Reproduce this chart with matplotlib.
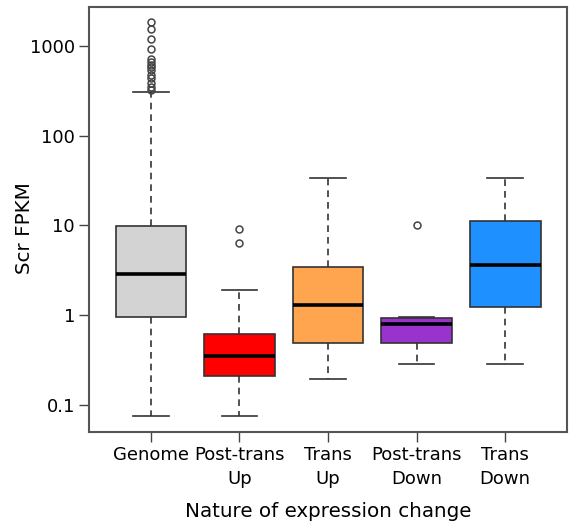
import numpy as np
import matplotlib
matplotlib.use("Agg")
from matplotlib import pyplot as plt

# groups and colours
labels = ["Genome", "Post-trans\nUp", "Trans\nUp", "Post-trans\nDown", "Trans\nDown"]
colors = ["#d3d3d3", "#ff0000", "#ffa54f", "#9a32cd", "#1e90ff"]

# box statistics (FPKM)
whislo = [0.0746, 0.0746, 0.195, 0.286, 0.286]
q1 = [0.95, 0.21, 0.491, 0.491, 1.23]
med = [2.87, 0.346, 1.29, 0.787, 3.64]
q3 = [9.85, 0.609, 3.43, 0.918, 11.3]
whishi = [311, 1.90, 34.1, 0.95, 34.1]
fliers = [
    [1862, 1545, 1203, 932, 720, 671, 617, 580, 542, 480, 436, 385, 348, 325],
    [9.04, 6.41],
    [],
    [10.0],
    [],
]

stats = []
for i in range(len(labels)):
    stats.append(dict(whislo=whislo[i], q1=q1[i], med=med[i], q3=q3[i],
                      whishi=whishi[i], fliers=fliers[i], label=labels[i]))

fig = plt.figure(figsize=(5.74, 5.25), dpi=100)
ax = fig.add_axes([0.155, 0.177, 0.833, 0.81])

bp = ax.bxp(stats, positions=range(1, 6), widths=0.8, patch_artist=True,
            boxprops=dict(edgecolor="#333333", linewidth=1.2),
            medianprops=dict(color="black", linewidth=2.6),
            whiskerprops=dict(color="#333333", linewidth=1.2, linestyle=(0, (4, 3))),
            capprops=dict(color="#333333", linewidth=1.2),
            flierprops=dict(marker="o", markersize=5, markerfacecolor="none",
                            markeredgecolor="#444444", markeredgewidth=1.1))
for b, c in zip(bp["boxes"], colors):
    b.set_facecolor(c)
for cap in bp["caps"]:
    x = cap.get_xdata()
    mid = (x[0] + x[1]) / 2
    cap.set_xdata([mid - 0.2, mid + 0.2])

ax.set_yscale("log")
ax.set_ylim(0.0494, 2740)
ax.set_xlim(0.3, 5.7)
ax.set_yticks([0.1, 1, 10, 100, 1000])
ax.set_yticklabels(["0.1", "1", "10", "100", "1000"])
ax.minorticks_off()
ax.tick_params(axis="both", labelsize=13, length=7, width=1, color="#444444", pad=3)
ax.set_xticks(range(1, 6))
ax.set_xticklabels(labels, linespacing=1.45)
for sp in ax.spines.values():
    sp.set_color("#555555")
    sp.set_linewidth(1.5)

ax.set_ylabel("Scr FPKM", fontsize=14.3)
ax.yaxis.set_label_coords(-0.115, 0.48)
ax.set_xlabel("Nature of expression change", fontsize=14.3, labelpad=10)

fig.savefig("out.png", dpi=100)
